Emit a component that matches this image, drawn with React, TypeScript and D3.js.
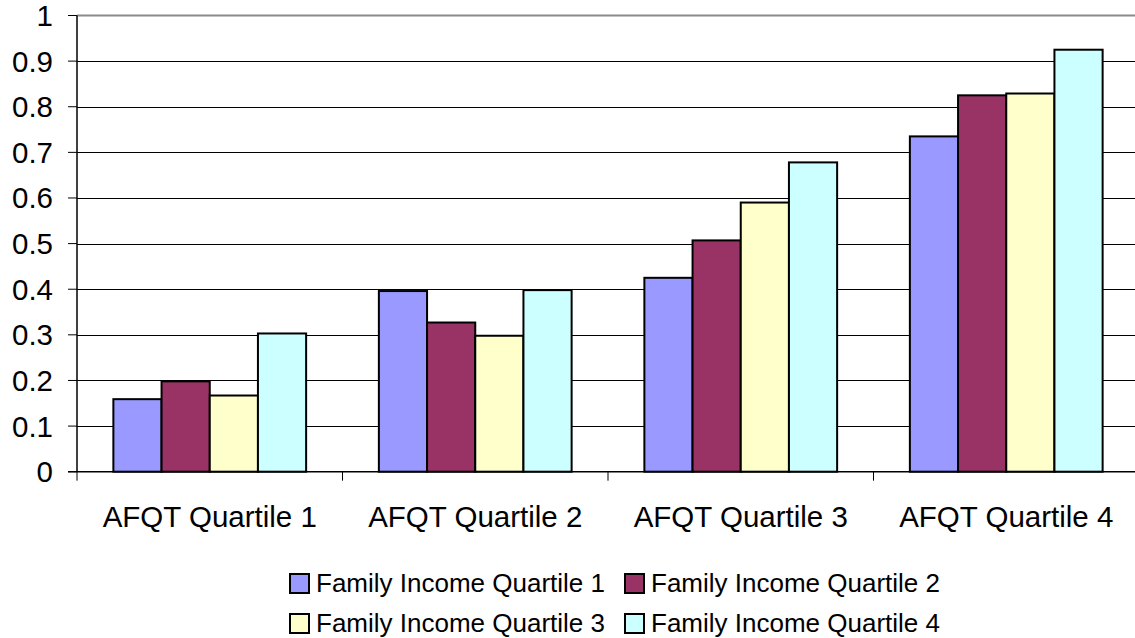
import React from "react";
import * as d3 from "d3";

const categories = ["AFQT Quartile 1", "AFQT Quartile 2", "AFQT Quartile 3", "AFQT Quartile 4"];
const seriesNames = [
  "Family Income Quartile 1",
  "Family Income Quartile 2",
  "Family Income Quartile 3",
  "Family Income Quartile 4",
];
const income1 = [0.159, 0.396, 0.425, 0.735];
const income2 = [0.198, 0.327, 0.507, 0.825];
const income3 = [0.167, 0.298, 0.59, 0.829];
const income4 = [0.303, 0.398, 0.678, 0.925];
const yTicks = [0, 0.1, 0.2, 0.3, 0.4, 0.5, 0.6, 0.7, 0.8, 0.9, 1];
const colors = ["#9999FF", "#993366", "#FFFFCC", "#CCFFFF"];

const series = [income1, income2, income3, income4];

const width = 1135;
const height = 638;
const left = 77;
const top = 15.5;
const bottom = 471.7;
const right = 1139;

const App = () => {
  const x = d3.scaleBand().domain(categories).range([left, right]).paddingInner(0);
  const y = d3.scaleLinear().domain([0, 1]).range([bottom, top]);
  const groupW = x.bandwidth() * 0.726;
  const inner = d3
    .scaleBand()
    .domain(seriesNames)
    .range([(x.bandwidth() - groupW) / 2, (x.bandwidth() + groupW) / 2]);

  const font = "Arial, 'Liberation Sans', sans-serif";

  // legend layout
  const legendX = [290, 625];
  const legendY = [583, 623];

  return (
    <svg
      width={width}
      height={height}
      style={{ position: "absolute", left: 0, top: 0, background: "white" }}
      fontFamily={font}
    >
      {/* gridlines */}
      {yTicks.slice(1, -1).map((t) => (
        <line
          key={t}
          x1={left}
          x2={width}
          y1={Math.round(y(t)) + 0.5}
          y2={Math.round(y(t)) + 0.5}
          stroke="#000"
          strokeWidth={1}
        />
      ))}
      <line x1={left} x2={width} y1={y(1)} y2={y(1)} stroke="#8a8a8a" strokeWidth={2} />

      {/* bars */}
      {series.map((vals, si) =>
        vals.map((v, ci) => (
          <rect
            key={`${si}-${ci}`}
            x={(x(categories[ci]) as number) + (inner(seriesNames[si]) as number)}
            y={y(v)}
            width={inner.bandwidth()}
            height={y(0) - y(v)}
            fill={colors[si]}
            stroke="#000"
            strokeWidth={2}
          />
        ))
      )}

      {/* axes */}
      <line x1={left} x2={left} y1={top} y2={bottom} stroke="#000" strokeWidth={1.5} />
      <line x1={left - 9} x2={width} y1={bottom} y2={bottom} stroke="#000" strokeWidth={1.5} />
      {yTicks.map((t) => (
        <g key={t}>
          <line x1={left - 9} x2={left} y1={y(t)} y2={y(t)} stroke="#000" strokeWidth={1} />
          <text
            x={53}
            y={y(t)}
            textAnchor="end"
            dominantBaseline="central"
            fontSize={29.5}
            fill="#000"
          >
            {t}
          </text>
        </g>
      ))}
      {categories.map((c) => (
        <g key={c}>
          <line
            x1={x(c) as number}
            x2={x(c) as number}
            y1={bottom}
            y2={bottom + 9}
            stroke="#000"
            strokeWidth={1}
          />
          <text
            x={(x(c) as number) + x.bandwidth() / 2}
            y={527}
            textAnchor="middle"
            fontSize={29.5}
            fill="#000"
          >
            {c}
          </text>
        </g>
      ))}

      {/* legend */}
      {seriesNames.map((s, i) => {
        const lx = legendX[i % 2];
        const ly = legendY[Math.floor(i / 2)];
        return (
          <g key={s}>
            <rect x={lx} y={ly - 9} width={19} height={19} fill={colors[i]} stroke="#000" strokeWidth={2} />
            <text x={lx + 26} y={ly} dominantBaseline="central" fontSize={26} fill="#000">
              {s}
            </text>
          </g>
        );
      })}
    </svg>
  );
};

export default App;
